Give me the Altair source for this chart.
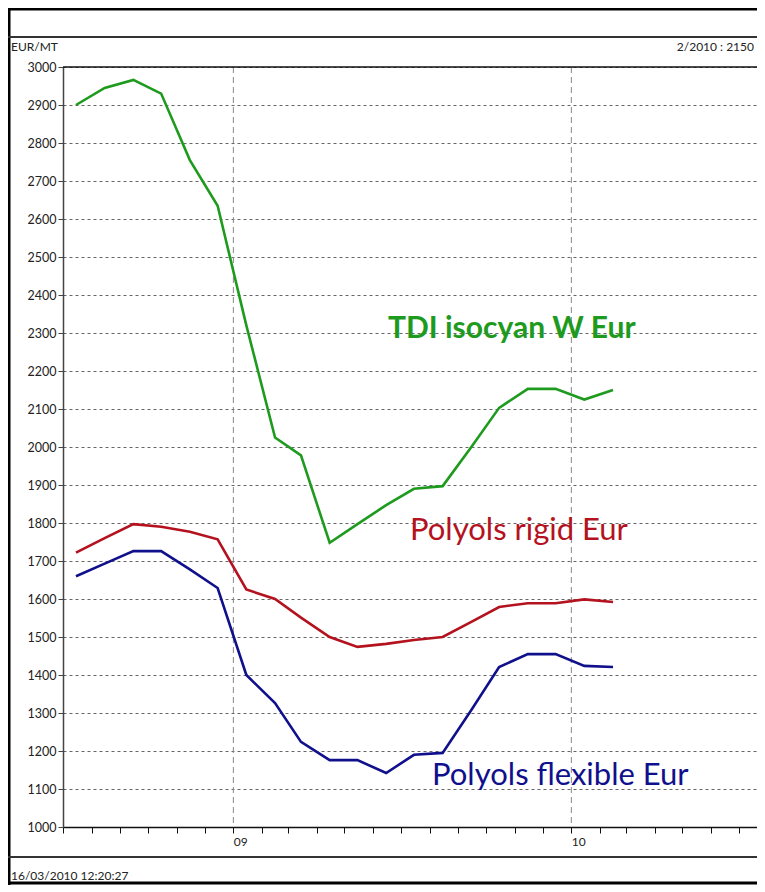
import altair as alt
import pandas as pd

# ---- data ----
months = ["2008-07-15", "2008-08-15", "2008-09-15", "2008-10-15", "2008-11-15", "2008-12-15",
          "2009-01-15", "2009-02-15", "2009-03-15", "2009-04-15", "2009-05-15", "2009-06-15",
          "2009-07-15", "2009-08-15", "2009-09-15", "2009-10-15", "2009-11-15", "2009-12-15",
          "2010-01-15", "2010-02-15"]
tdi = [2900, 2945, 2966, 2930, 2755, 2635, 2320, 2025, 1978, 1748, 1797, 1847,
       1890, 1897, 2000, 2103, 2153, 2153, 2125, 2150]
rigid = [1722, 1760, 1797, 1790, 1777, 1757, 1625, 1600, 1551, 1500, 1474, 1482,
         1492, 1500, 1540, 1579, 1589, 1589, 1599, 1592]
flexible = [1660, 1693, 1726, 1726, 1678, 1629, 1400, 1326, 1224, 1176, 1176, 1142,
            1190, 1195, 1308, 1421, 1455, 1455, 1424, 1421]
series_names = ["TDI isocyan W Eur", "Polyols rigid Eur", "Polyols flexible Eur"]
series_colors = ["#1e9b1e", "#b3121e", "#10108c"]
year_starts = ["2009-01-01", "2010-01-01"]
y_ticks = list(range(1000, 3001, 100))
header_left = "EUR/MT"
header_right = "2/2010 :  2150"
footer_text = "16/03/2010 12:20:27"

rows = []
for name, vals in zip(series_names, [tdi, rigid, flexible]):
    for m, v in zip(months, vals):
        rows.append({"date": m + "T00:00:00", "value": v, "series": name})
df = pd.DataFrame(rows)

W, H = 694, 760
FONT = "Lato"

xscale = alt.Scale(domain=[alt.DateTime(year=2008, month=7, date=1),
                           alt.DateTime(year=2010, month=7, date=20, hours=12)])
yscale = alt.Scale(domain=[1000, 3000], nice=False, zero=False)

x_axis = alt.Axis(
    tickCount={"interval": "month", "step": 1},
    labelExpr="month(datum.value) == 0 ? timeFormat(datum.value, '%y') : ''",
    labelAlign="left", labelPadding=3, labelOverlap=False, labelFlush=False,
    tickSize=6, tickColor="#111", domainColor="#111", domainWidth=1.5,
    grid=False, title=None, labelFont=FONT, labelFontSize=12, labelColor="#222",
)
y_axis = alt.Axis(
    values=y_ticks, format="d", grid=True, gridDash=[3, 3], gridColor="#666", gridWidth=1,
    tickSize=5, tickColor="#444", domainColor="#444", domainWidth=1.5,
    labelPadding=2, labelFont=FONT, labelFontSize=12.5, labelColor="#222", title=None,
)

year_df = pd.DataFrame({"date": [d + "T00:00:00" for d in year_starts]})
year_rules = alt.Chart(year_df).mark_rule(color="#888", strokeDash=[6, 4], strokeWidth=1).encode(
    x=alt.X("date:T", scale=xscale, axis=x_axis)
)

lines = alt.Chart(df).mark_line(strokeWidth=2.6).encode(
    x=alt.X("date:T", scale=xscale, axis=x_axis),
    y=alt.Y("value:Q", scale=yscale, axis=y_axis),
    color=alt.Color("series:N", scale=alt.Scale(domain=series_names, range=series_colors), legend=None),
    detail="series:N",
)

one = pd.DataFrame({"k": [0]})


def text(label, x, y, size, color, weight="normal", align="left"):
    return alt.Chart(one).mark_text(
        text=label, align=align, baseline="middle", font=FONT, fontSize=size,
        color=color, fontWeight=weight,
    ).encode(x=alt.value(x), y=alt.value(y))


def hline(y, x1, x2, color, width):
    return alt.Chart(one).mark_rule(color=color, strokeWidth=width).encode(
        x=alt.value(x1), x2=alt.value(x2), y=alt.value(y)
    )


def vline(x, y1, y2, color, width):
    return alt.Chart(one).mark_rule(color=color, strokeWidth=width).encode(
        x=alt.value(x), y=alt.value(y1), y2=alt.value(y2)
    )


annotations = [
    text(series_names[0], 325, 262, 30, series_colors[0], weight="bold"),
    text(series_names[1], 347, 464, 31, series_colors[1]),
    text(series_names[2], 369, 709, 31, series_colors[2]),
    text(header_left, -52, -20, 12, "#222"),
    text(header_right, W - 3, -20, 12, "#222", align="right"),
    text(footer_text, -52, 809, 12, "#222"),
]

frame = [
    hline(0, 0, W, "#111", 1.5),          # top edge of plot
    hline(-58, -60, W, "#000", 3),        # outer frame top
    vline(-54, -60, 820, "#000", 3),      # outer frame left
    hline(-30, -60, W, "#333", 2),        # header separator
    hline(790, -60, W, "#333", 2),        # footer separator
    hline(816, -60, W, "#000", 3),        # outer frame bottom
]

chart = alt.layer(year_rules, lines, *annotations, *frame).properties(
    width=W, height=H,
    autosize=alt.AutoSizeParams(type="none"),
    padding={"left": 55, "top": 59, "right": 0, "bottom": 58},
    background="white",
).configure_view(stroke=None)

chart.save("out.html", embed_options={"renderer": "svg", "actions": False})
